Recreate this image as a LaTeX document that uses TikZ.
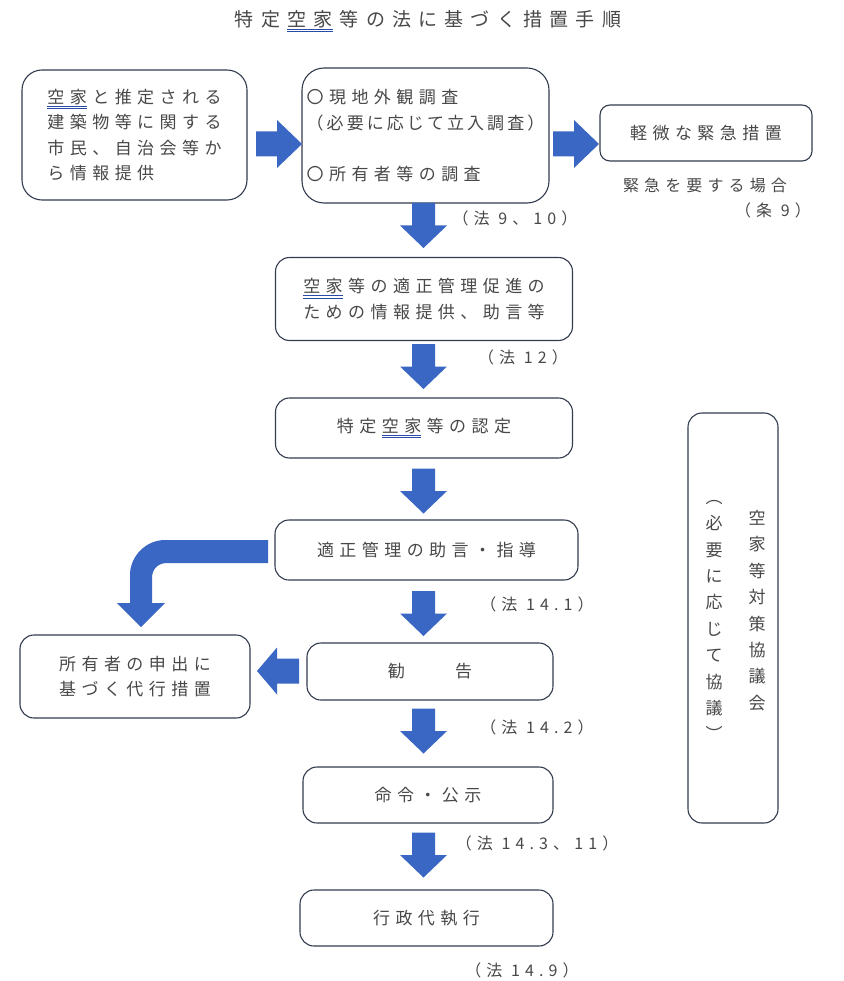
\documentclass[tikz,border=0pt]{standalone}
\usepackage{fontspec}
\newfontfamily\jp[LetterSpace=32]{Noto Sans CJK JP}
\newfontfamily\jpn[LetterSpace=18]{Noto Sans CJK JP}
\newfontfamily\jpt[LetterSpace=38]{Noto Sans CJK JP}
\definecolor{arr}{RGB}{59,103,196}
\definecolor{bd}{RGB}{50,60,78}
\definecolor{tx}{RGB}{72,72,72}
\definecolor{ulc}{RGB}{40,75,165}
\newsavebox\kuubox
% #1 space before, #2 space after, #3 text
\newcommand\ulkuu[3]{\hspace{#1}\sbox\kuubox{#3}\rlap{\color{ulc}\raisebox{-3.5pt}{\rule{\wd\kuubox}{0.9pt}}}\rlap{\color{ulc}\raisebox{-5.8pt}{\rule{\wd\kuubox}{0.7pt}}}\usebox\kuubox\hspace{#2}}
\tikzset{
  box/.style={draw=bd, line width=1.1pt, rounded corners=14pt, text=tx,
    font=\fontsize{17}{25.5}\jp, inner sep=0pt, align=center},
  lbl/.style={text=tx, font=\fontsize{16}{20}\jp, inner sep=0pt},
  vtxt/.style={text=tx, font=\fontsize{17}{26.4}\jp, inner sep=0pt, align=center},
  pics/darr/.style={code={\fill[arr] (-11.5,-22.5) -- (11.5,-22.5) -- (11.5,0) -- (23.5,0) -- (0,22.5) -- (-23.5,0) -- (-11.5,0) -- cycle;}},
  pics/rarr/.style={code={\fill[arr] (0,-12.5) -- (21,-12.5) -- (21,-24) -- (46,0) -- (21,24) -- (21,12.5) -- (0,12.5) -- cycle;}},
  pics/larr/.style={code={\fill[arr] (0,0) -- (20,-23.5) -- (20,-12.5) -- (42,-12.5) -- (42,12.5) -- (20,12.5) -- (20,23.5) -- cycle;}}
}
\begin{document}
\begin{tikzpicture}[x=1pt,y=-1pt]
\useasboundingbox (0,0) rectangle (843,981);
\fill[white] (0,0) rectangle (843,981);

% title
\node[text=tx, font=\fontsize{19}{22}\jpt, inner sep=0pt] (title) at (428,21) {特定\ulkuu{0.38em}{0.38em}{空家}等の法に基づく措置手順};

% boxes
\node[box, align=left, minimum width=225pt, minimum height=130pt, rounded corners=20pt] (b1) at (134.5,135)
  {\ulkuu{0pt}{0.32em}{空家}と推定される\\建築物等に関する\\市民、自治会等か\\ら情報提供};
\node[box, align=left, minimum width=247pt, minimum height=135pt, rounded corners=22pt] (b2) at (425.5,135.5)
  {〇現地外観調査\\{\jpn（必要に応じて立入調査）}\\[25.5pt]〇所有者等の調査};
\node[box, minimum width=212pt, minimum height=56pt, rounded corners=10pt] (b3) at (706,133) {軽微な緊急措置};
\node[box, minimum width=297pt, minimum height=83pt] (b4) at (424,299)
  {\ulkuu{0pt}{0.32em}{空家}等の適正管理促進の\\ための情報提供、助言等};
\node[box, minimum width=297pt, minimum height=60pt] (b5) at (424,428) {特定\ulkuu{0.32em}{0.32em}{空家}等の認定};
\node[box, minimum width=303pt, minimum height=60pt] (b6) at (426.5,550) {適正管理の助言・指導};
\node[box, minimum width=246pt, minimum height=57pt] (b7) at (430,671.5) {勧　　告};
\node[box, minimum width=230pt, minimum height=83pt] (b8) at (135,676.5) {所有者の申出に\\基づく代行措置};
\node[box, minimum width=250pt, minimum height=56pt] (b9) at (428,795) {命令・公示};
\node[box, minimum width=253pt, minimum height=56pt] (b10) at (426.5,918) {行政代執行};
\node[box, minimum width=90pt, minimum height=410pt] (tall) at (733,618) {};

% vertical texts
\node[vtxt] (kyo) at (757,610.5) {空\\家\\等\\対\\策\\協\\議\\会};
\node[vtxt] (hitsu) at (714,620.5) {︵\\必\\要\\に\\応\\じ\\て\\協\\議\\︶};

% labels
\node[lbl] (l1) at (515,218) {（法 9、10）};
\node[lbl] (l2) at (523,357) {（法 12）};
\node[lbl] (l3) at (537,604) {（法 14.1）};
\node[lbl] (l4) at (537,727) {（法 14.2）};
\node[lbl] (l5) at (537,843) {（法 14.3、11）};
\node[lbl] (l6) at (522,970) {（法 14.9）};
\node[lbl] (l7) at (705,185) {緊急を要する場合};
\node[lbl] (l8) at (773,210) {（条 9）};

% block arrows
\pic at (256,144) {rarr};
\pic at (553,144) {rarr};
\pic at (423.5,225.5) {darr};
\pic at (423.5,366.5) {darr};
\pic at (423.5,491) {darr};
\pic at (423.5,613.5) {darr};
\pic at (423.5,731) {darr};
\pic at (423.5,855) {darr};
\pic at (257,671) {larr};
\fill[arr] (268,540) -- (165,540) .. controls (146,540) and (130,556) .. (130,575) -- (130,603) -- (117,603) -- (141,627)
  -- (165,603) -- (152,603) -- (152,578) .. controls (152,569) and (158,563) .. (167,563) -- (268,563) -- cycle;
\end{tikzpicture}
\end{document}
